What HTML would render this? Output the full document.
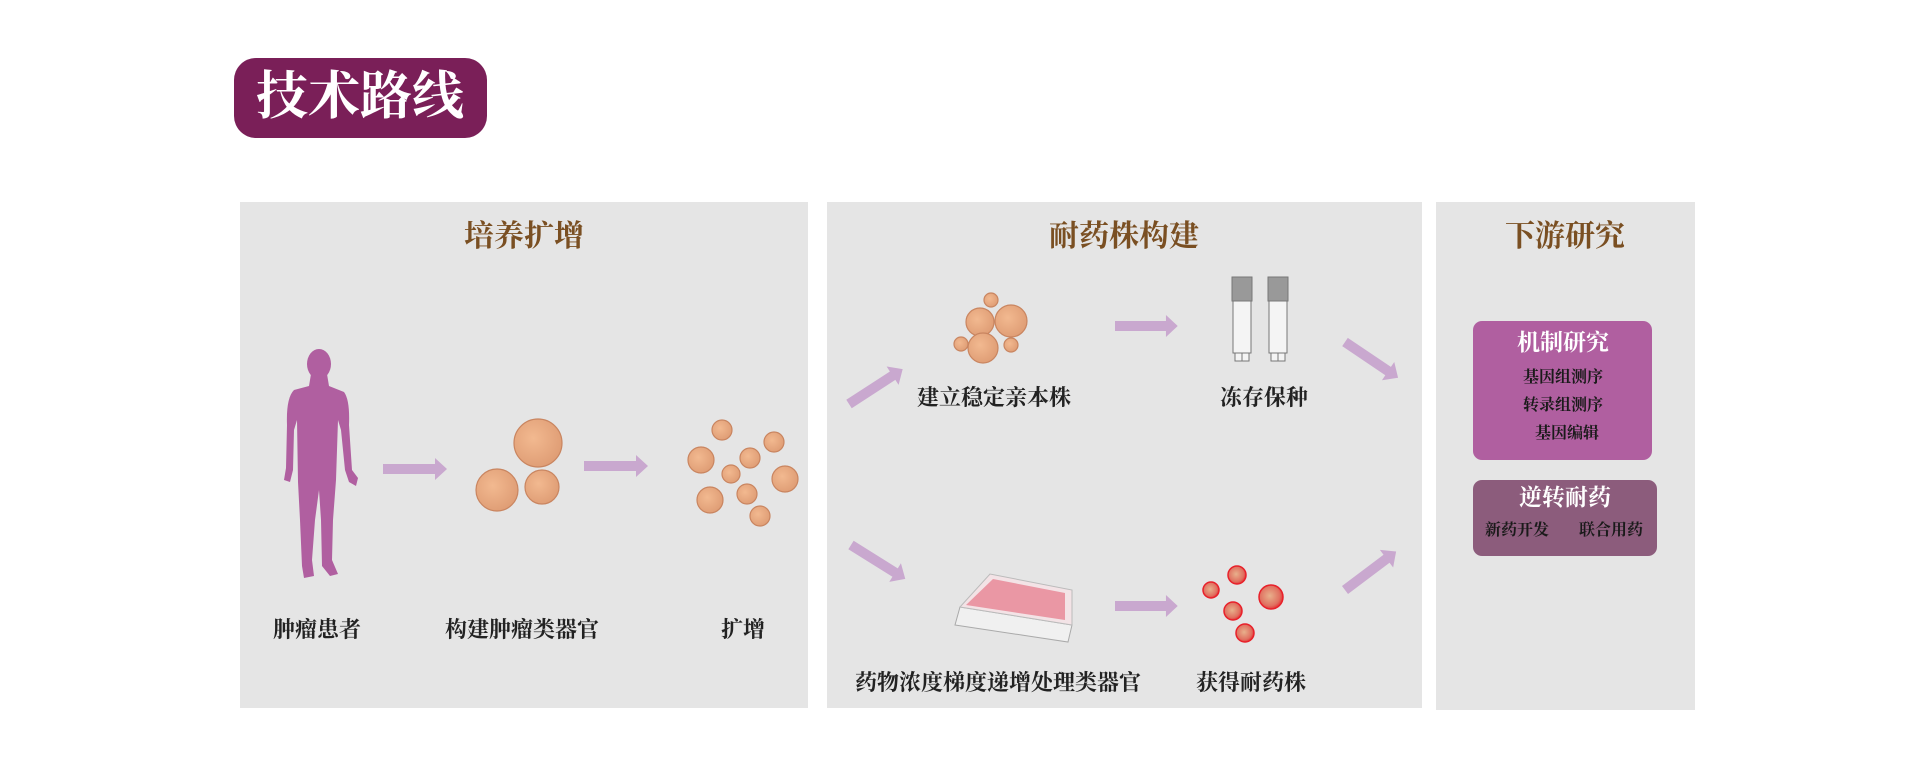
<!DOCTYPE html>
<html><head><meta charset="utf-8">
<style>
html,body{margin:0;padding:0;background:#fff;}
svg{display:block;}
text{font-family:"Liberation Serif","Noto Serif CJK SC",serif;}
</style></head>
<body>
<svg width="1920" height="758" viewBox="0 0 1920 758" xmlns="http://www.w3.org/2000/svg">
<defs>
<radialGradient id="org" cx="0.4" cy="0.4" r="0.7">
<stop offset="0" stop-color="#f2b990"/><stop offset="1" stop-color="#dd9a72"/>
</radialGradient>
<radialGradient id="red" cx="0.45" cy="0.45" r="0.6">
<stop offset="0" stop-color="#e8b08c"/><stop offset="0.7" stop-color="#e07060"/><stop offset="1" stop-color="#e8202a"/>
</radialGradient>
<g id="arr"><path d="M0,-5 L52,-5 L52,-11 L64,0 L52,11 L52,5 L0,5 Z" fill="#c9a8cf"/></g>
</defs>

<rect x="234" y="58" width="253" height="80" rx="22" fill="#7a1f58"/>
<text x="360" y="114" font-size="52" font-weight="bold" fill="#fff" text-anchor="middle">技术路线</text>

<rect x="240" y="202" width="568" height="506" fill="#e5e5e5"/>
<rect x="827" y="202" width="595" height="506" fill="#e5e5e5"/>
<rect x="1436" y="202" width="259" height="508" fill="#e5e5e5"/>

<g font-size="30" font-weight="bold" fill="#7a4f22" text-anchor="middle">
<text x="524" y="246">培养扩增</text>
<text x="1124" y="246">耐药株构建</text>
<text x="1565" y="246">下游研究</text>
</g>

<g fill="#b05fa0">
<ellipse cx="319" cy="364" rx="12" ry="15"/>
<path d="M311,374 L327,374 L329,386 L344,392 Q350,400 349,425 L352,470 L358,478 L356,486 L349,482 L345,470 L341,430 L338,420 L336,480 L333,520 L332,560 L338,574 L330,576 L322,566 L321,520 L319,490 L315,520 L312,560 L314,576 L304,578 L302,566 L300,520 L298,482 L297,420 L294,430 L293,470 L290,482 L284,480 L286,468 L287,425 Q286,398 294,390 L309,386 Z"/>
</g>

<g fill="url(#org)" stroke="#c98560" stroke-width="1.2">
<circle cx="538" cy="443" r="24"/><circle cx="497" cy="490" r="21"/><circle cx="542" cy="487" r="17"/>
<circle cx="722" cy="430" r="10"/><circle cx="774" cy="442" r="10"/><circle cx="701" cy="460" r="13"/>
<circle cx="750" cy="458" r="10"/><circle cx="731" cy="474" r="9"/><circle cx="785" cy="479" r="13"/>
<circle cx="710" cy="500" r="13"/><circle cx="747" cy="494" r="10"/><circle cx="760" cy="516" r="10"/>
</g>
<use href="#arr" transform="translate(383,469)"/>
<use href="#arr" transform="translate(584,466)"/>

<g font-size="22" font-weight="bold" fill="#222" text-anchor="middle">
<text x="317" y="637">肿瘤患者</text>
<text x="522" y="637">构建肿瘤类器官</text>
<text x="743" y="637">扩增</text>
</g>

<g fill="url(#org)" stroke="#c98560" stroke-width="1.2">
<circle cx="991" cy="300" r="7"/><circle cx="980" cy="322" r="14"/><circle cx="1011" cy="321" r="16"/>
<circle cx="961" cy="344" r="7"/><circle cx="983" cy="348" r="15"/><circle cx="1011" cy="345" r="7"/>
</g>
<use href="#arr" transform="translate(1115,326) scale(0.98,1)"/>
<g stroke="#777" stroke-width="1" fill="#f4f4f4">
<rect x="1232" y="277" width="20" height="24" fill="#999"/>
<rect x="1233" y="301" width="18" height="52"/>
<rect x="1235" y="353" width="7" height="8"/><rect x="1242" y="353" width="7" height="8"/>
<rect x="1268" y="277" width="20" height="24" fill="#999"/>
<rect x="1269" y="301" width="18" height="52"/>
<rect x="1271" y="353" width="7" height="8"/><rect x="1278" y="353" width="7" height="8"/>
</g>
<use href="#arr" transform="translate(849,404) rotate(-33)"/>
<use href="#arr" transform="translate(1345,342) rotate(34)"/>
<use href="#arr" transform="translate(851,545) rotate(32)"/>
<use href="#arr" transform="translate(1345,590) rotate(-37)"/>

<g>
<path d="M955,625 L1068,642 L1072,625 L960,607 Z" fill="#f0f0f0" stroke="#aaa"/>
<path d="M960,607 L990,574 L1072,590 L1072,625 Z" fill="#f3e3e6" stroke="#bbb"/>
<path d="M966,605 L993,579 L1065,593 L1065,620 Z" fill="#e88a98" opacity="0.85"/>
</g>
<use href="#arr" transform="translate(1115,606) scale(0.98,1)"/>
<g fill="url(#red)" stroke="#e8202a" stroke-width="1.5">
<circle cx="1237" cy="575" r="9"/><circle cx="1211" cy="590" r="8"/><circle cx="1271" cy="597" r="12"/>
<circle cx="1233" cy="611" r="9"/><circle cx="1245" cy="633" r="9"/>
</g>

<g font-size="22" font-weight="bold" fill="#222" text-anchor="middle">
<text x="994" y="405">建立稳定亲本株</text>
<text x="1264" y="405">冻存保种</text>
<text x="998" y="690">药物浓度梯度递增处理类器官</text>
<text x="1251" y="690">获得耐药株</text>
</g>

<rect x="1473" y="321" width="179" height="139" rx="9" fill="#b05fa0"/>
<text x="1563" y="350" font-size="23" font-weight="bold" fill="#fff" text-anchor="middle">机制研究</text>
<g font-size="16" font-weight="bold" fill="#1a1a1a" text-anchor="middle">
<text x="1563" y="382">基因组测序</text>
<text x="1563" y="410">转录组测序</text>
<text x="1567" y="438">基因编辑</text>
</g>
<rect x="1473" y="480" width="184" height="76" rx="9" fill="#8c5c7c"/>
<text x="1565" y="505" font-size="23" font-weight="bold" fill="#fff" text-anchor="middle">逆转耐药</text>
<g font-size="16" font-weight="bold" fill="#1a1a1a" text-anchor="middle">
<text x="1517" y="535">新药开发</text>
<text x="1611" y="535">联合用药</text>
</g>
</svg>
</body></html>
